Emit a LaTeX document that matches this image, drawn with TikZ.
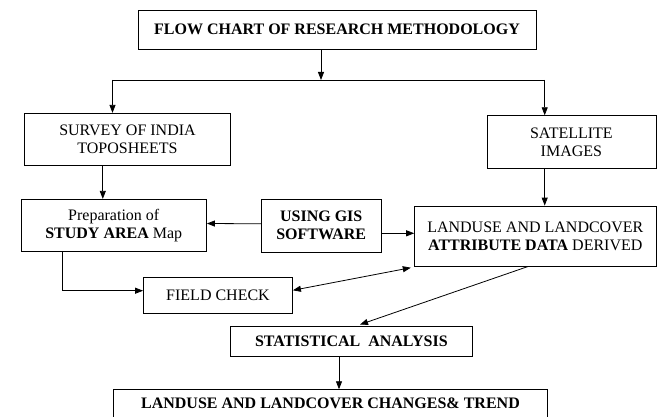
\documentclass[tikz,border=0pt]{standalone}
\usepackage{fontspec}
\setmainfont{Liberation Serif}
\usetikzlibrary{arrows.meta}
\tikzset{box/.style={draw,inner sep=0pt,align=center,font=\fontsize{16}{18}\selectfont}}
\begin{document}
\begin{tikzpicture}[x=1pt,y=-1pt,line width=0.8pt,>={Triangle[length=8pt,width=6pt]}]
	\useasboundingbox (0,0) rectangle (658,417);
	\node[box,minimum width=398,minimum height=39] (title) at (337,29.5) {\textbf{FLOW CHART OF RESEARCH METHODOLOGY}};
	\node[box,minimum width=206.5,minimum height=52.4] (survey) at (127.5,139.5) {SURVEY OF INDIA\\TOPOSHEETS};
	\node[box,minimum width=169,minimum height=52.6] (sat) at (571.4,142) {SATELLITE\\IMAGES};
	\node[box,minimum width=185.5,minimum height=52.4] (prep) at (113.75,225.5) {Preparation of\\\textbf{STUDY AREA} Map};
	\node[box,minimum width=119.6,minimum height=53] (gis) at (321.2,225.8) {\textbf{USING GIS}\\\textbf{SOFTWARE}};
	\node[box,minimum width=241.4,minimum height=60] (land) at (535.3,236) {LANDUSE AND LANDCOVER\\\textbf{ATTRIBUTE DATA} DERIVED};
	\node[box,minimum width=149,minimum height=36] (field) at (218,295.3) {FIELD CHECK};
	\node[box,minimum width=241.2,minimum height=30.7] (stat) at (351.4,341.3) {\textbf{STATISTICAL\ \ ANALYSIS}};
	\node[box,minimum width=434.3,text height=18.5,text depth=23,anchor=north] (final) at (330.5,389.3) {\textbf{LANDUSE AND LANDCOVER CHANGES\& TREND}};
	% branch points
	\coordinate (split) at (321,80);
	\coordinate (lbr) at (112.5,80);
	\coordinate (rbr) at (544.7,80);
	\coordinate (sv) at ([xshift=-24.7pt]survey.south);
	\coordinate (st) at ([xshift=-12.4pt]stat.south);
	\draw[->] (split |- title.south) -- (split);
	\draw (lbr) -- (rbr);
	\draw[->] (lbr) -- (lbr |- survey.north);
	\draw[->] (rbr) -- (rbr |- sat.north);
	\draw[->] (sv) -- (sv |- prep.north);
	\draw[->] (rbr |- sat.south) -- (rbr |- land.north);
	\draw[->] ([yshift=2pt]gis.west) -- ([yshift=2pt]prep.east);
	\draw[->] ([yshift=-7.5pt]gis.east) -- ([yshift=2.7pt]land.west);
	\draw[->] ([xshift=-51.6pt]prep.south) |- ([yshift=4.6pt]field.west);
	\draw[<->] ([yshift=5pt]field.east) -- ([xshift=-3.4pt,yshift=-1.3pt]land.south west);
	\draw[->] ([xshift=-7pt]land.south) -- ([xshift=8.6pt,yshift=1pt]stat.north);
	\draw[->] (st) -- (st |- final.north);
\end{tikzpicture}
\end{document}
